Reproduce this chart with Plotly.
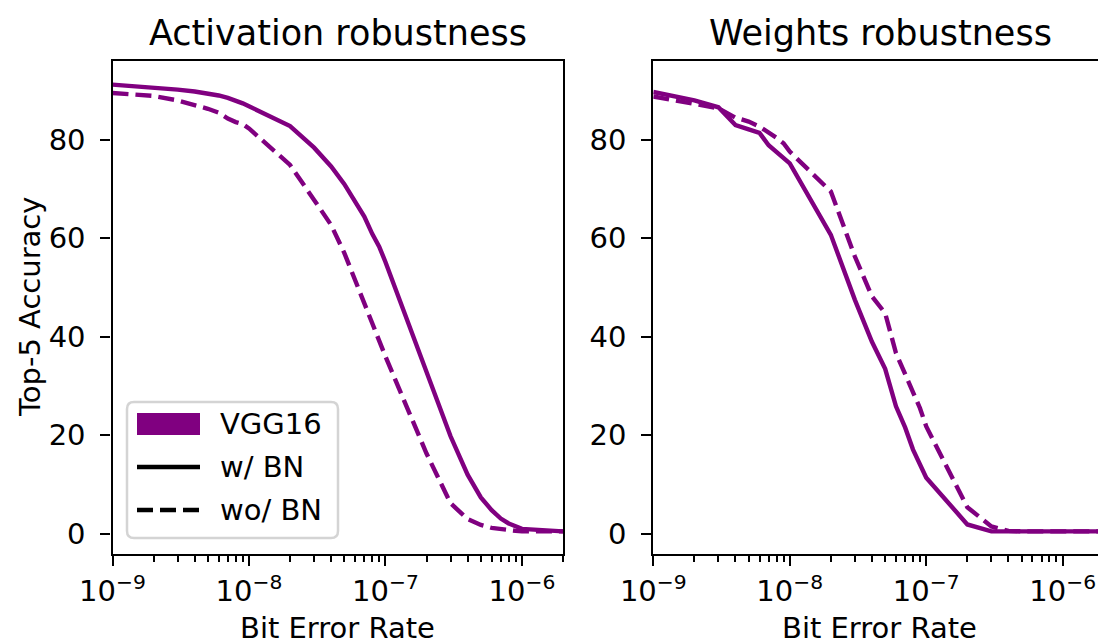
import plotly.graph_objects as go

# ---------------- data ----------------
ber = [1e-9, 2e-9, 3e-9, 4e-9, 5e-9, 6e-9, 7e-9, 8e-9, 9e-9,
       1e-8, 2e-8, 3e-8, 4e-8, 5e-8, 6e-8, 7e-8, 8e-8, 9e-8,
       1e-7, 2e-7, 3e-7, 4e-7, 5e-7, 6e-7, 7e-7, 8e-7, 9e-7,
       1e-6, 2e-6]

act_bn = [91.2, 90.7, 90.2, 89.8, 89.4, 89.0, 88.5, 88.0, 87.4,
          86.8, 82.8, 78.4, 74.6, 71.0, 67.6, 64.4, 60.9, 58.3,
          55.2, 32.5, 19.8, 12.0, 7.4, 4.8, 3.1, 2.1, 1.5,
          1.0, 0.5]

act_nobn = [89.5, 88.9, 88.0, 87.1, 86.3, 85.5, 84.3, 83.6, 83.2,
            82.3, 74.9, 67.8, 62.7, 57.0, 51.5, 46.7, 42.8, 39.2,
            36.0, 16.3, 6.2, 3.0, 1.8, 1.2, 0.9, 0.7, 0.6,
            0.5, 0.5]

w_bn = [89.7, 88.0, 86.6, 83.0, 82.1, 81.4, 78.9, 77.6, 76.4,
        75.2, 60.7, 47.5, 39.0, 33.5, 25.9, 21.6, 17.1, 14.1,
        11.4, 1.9, 0.5, 0.5, 0.5, 0.5, 0.5, 0.5, 0.5,
        0.5, 0.5]

w_nobn = [88.8, 87.4, 86.4, 84.5, 83.7, 82.7, 81.6, 80.4, 79.3,
          77.6, 69.5, 56.3, 48.2, 44.8, 36.7, 32.6, 28.6, 25.5,
          21.8, 5.4, 1.5, 0.6, 0.5, 0.5, 0.5, 0.5, 0.5,
          0.5, 0.5]

titles = ["Activation robustness", "Weights robustness"]
x_label = "Bit Error Rate"
y_label = "Top-5 Accuracy"
x_tickvals = [1e-9, 1e-8, 1e-7, 1e-6]
x_ticktext = ["10<sup>\u22129</sup>", "10<sup>\u22128</sup>",
              "10<sup>\u22127</sup>", "10<sup>\u22126</sup>"]
x_minor = [k * 10.0 ** e for e in (-9, -8, -7, -6) for k in range(2, 10)]
y_tickvals = [0, 20, 40, 60, 80]
legend_labels = ["VGG16", "w/ BN", "wo/ BN"]

# ---------------- style ----------------
W, H = 1098, 643
ML, MR, MT, MB = 112, 0, 61, 89
PW, PH = W - ML - MR, H - MT - MB
PURPLE = "#800080"
FONT = "DejaVu Sans"
FS = 29
LW = 4.4
DASH = "16px,7px"


def px_x(px):
    return (px - ML) / PW


def px_y(py):
    return (H - MB - py) / PH


fig = go.Figure()

fig.add_trace(go.Scatter(x=ber, y=act_bn, mode="lines", xaxis="x", yaxis="y",
                         line=dict(color=PURPLE, width=LW), showlegend=False))
fig.add_trace(go.Scatter(x=ber, y=act_nobn, mode="lines", xaxis="x", yaxis="y",
                         line=dict(color=PURPLE, width=LW, dash=DASH), showlegend=False))
fig.add_trace(go.Scatter(x=ber, y=w_bn, mode="lines", xaxis="x2", yaxis="y2",
                         line=dict(color=PURPLE, width=LW), showlegend=False))
fig.add_trace(go.Scatter(x=ber, y=w_nobn, mode="lines", xaxis="x2", yaxis="y2",
                         line=dict(color=PURPLE, width=LW, dash=DASH), showlegend=False))

left_x0, left_x1 = 112.5, 563.0
right_x0 = 653.3
decade = (left_x1 - left_x0) / (-5.69897 + 9)
right_max = -9 + (W - right_x0) / decade

common_x = dict(type="log", showline=True, linecolor="black", linewidth=2.3,
                ticks="outside", ticklen=10, tickwidth=2.3, tickcolor="black",
                tickvals=x_tickvals, ticktext=x_ticktext, showgrid=False, zeroline=False,
                tickfont=dict(family=FONT, size=FS, color="black"),
                minor=dict(tickvals=x_minor, ticks="outside", ticklen=6, tickwidth=1.7,
                           tickcolor="black", showgrid=False),
                mirror=True, automargin=False)
common_y = dict(range=[-4.1, 96.0], showline=True, linecolor="black", linewidth=2.3,
                ticks="outside", ticklen=10, tickwidth=2.3, tickcolor="black",
                tickvals=y_tickvals, showgrid=False, zeroline=False, ticklabelstandoff=9,
                tickfont=dict(family=FONT, size=FS, color="black"), automargin=False)

fig.update_layout(
    width=W, height=H,
    margin=dict(l=ML, r=MR, t=MT, b=MB, autoexpand=False),
    paper_bgcolor="white", plot_bgcolor="white",
    font=dict(family=FONT, size=FS, color="black"),
    showlegend=False,
    xaxis=dict(common_x, domain=[px_x(left_x0), px_x(left_x1)], range=[-9, -5.69897], anchor="y"),
    yaxis=dict(common_y, domain=[0, 1], anchor="x", mirror=True),
    xaxis2=dict(common_x, domain=[px_x(right_x0), 1.0], range=[-9, right_max], anchor="y2"),
    yaxis2=dict(common_y, domain=[0, 1], anchor="x2", mirror=False),
)

ann = []
# panel titles
ann.append(dict(text=titles[0], x=px_x((left_x0 + left_x1) / 2), y=px_y(33),
                xref="paper", yref="paper", showarrow=False, xanchor="center", yanchor="middle",
                font=dict(family=FONT, size=35, color="black")))
ann.append(dict(text=titles[1], x=px_x(880), y=px_y(33),
                xref="paper", yref="paper", showarrow=False, xanchor="center", yanchor="middle",
                font=dict(family=FONT, size=35, color="black")))
# x labels
for cx in ((left_x0 + left_x1) / 2, 879):
    ann.append(dict(text=x_label, x=px_x(cx), y=px_y(628),
                    xref="paper", yref="paper", showarrow=False, xanchor="center", yanchor="middle",
                    font=dict(family=FONT, size=FS, color="black")))
# y label
ann.append(dict(text=y_label, x=px_x(30), y=px_y(307), textangle=-90,
                xref="paper", yref="paper", showarrow=False, xanchor="center", yanchor="middle",
                font=dict(family=FONT, size=FS, color="black")))

# legend (drawn manually)
bx0, bx1, by0, by1, r = 127, 338, 402, 538, 7
X = lambda v: px_x(v)
Y = lambda v: px_y(v)
path = (f"M {X(bx0 + r)},{Y(by0)} L {X(bx1 - r)},{Y(by0)} Q {X(bx1)},{Y(by0)} {X(bx1)},{Y(by0 + r)} "
        f"L {X(bx1)},{Y(by1 - r)} Q {X(bx1)},{Y(by1)} {X(bx1 - r)},{Y(by1)} "
        f"L {X(bx0 + r)},{Y(by1)} Q {X(bx0)},{Y(by1)} {X(bx0)},{Y(by1 - r)} "
        f"L {X(bx0)},{Y(by0 + r)} Q {X(bx0)},{Y(by0)} {X(bx0 + r)},{Y(by0)} Z")
shapes = [
    dict(type="path", path=path, xref="paper", yref="paper",
         fillcolor="white", line=dict(color="#d4d4d4", width=2.5)),
    dict(type="rect", xref="paper", yref="paper", x0=X(137), x1=X(200), y0=Y(413), y1=Y(435),
         fillcolor=PURPLE, line=dict(width=0)),
    dict(type="line", xref="paper", yref="paper", x0=X(137), x1=X(200), y0=Y(467), y1=Y(467),
         line=dict(color="black", width=LW)),
    dict(type="line", xref="paper", yref="paper", x0=X(137), x1=X(200), y0=Y(510), y1=Y(510),
         line=dict(color="black", width=LW, dash=DASH)),
]
for lab, yc in zip(legend_labels, (424, 467, 510)):
    ann.append(dict(text=lab, x=X(218), y=Y(yc), xref="paper", yref="paper", showarrow=False,
                    xanchor="left", yanchor="middle",
                    font=dict(family=FONT, size=FS, color="black")))

fig.update_layout(annotations=ann, shapes=shapes)

fig.write_html("out.html",
               config={"displayModeBar": False},
               post_script="document.body.style.margin='0';document.body.style.padding='0';")
